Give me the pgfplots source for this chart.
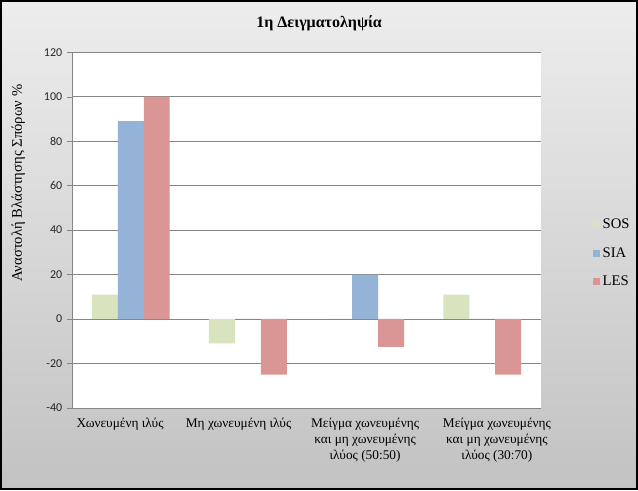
\documentclass[border=0pt]{standalone}
\usepackage{pgfplots}
\pgfplotsset{compat=1.18}
\usepackage{fontspec}
\setmainfont{Liberation Serif}
\newfontfamily\tickfont{Carlito}
\definecolor{sos}{HTML}{D7E4BD}
\definecolor{sia}{HTML}{95B3D7}
\definecolor{les}{HTML}{D99694}
\definecolor{gridc}{HTML}{868686}
\definecolor{bgtop}{HTML}{EDEDED}
\definecolor{bgbot}{HTML}{C2C2C2}
\begin{document}
\begin{tikzpicture}[x=0.75pt,y=0.75pt]
\shade[top color=bgtop, bottom color=bgbot] (0,0) rectangle (638,490);
\draw[black, line width=1.5pt] (0.75,0.75) rectangle (637.25,489.25);
\coordinate (orig) at (72,82);
\begin{axis}[
  at={(orig)}, anchor=south west,
  scale only axis,
  width=351.75pt, height=267pt,
  ybar=0pt, bar width=19.5pt,
  xmin=-0.5, xmax=3.5,
  ymin=-40, ymax=120,
  ytick={-40,-20,...,120},
  xtick={0,1,2,3},
  xticklabels={{\hspace*{-16pt}Χωνευμένη ιλύς},{\hspace*{-14pt}Μη χωνευμένη ιλύς},{Μείγμα χωνευμένης\\και μη χωνευμένης\\ιλύος (50:50)},{\hspace*{22pt}Μείγμα χωνευμένης\\\hspace*{22pt}και μη χωνευμένης\\\hspace*{22pt}ιλύος (30:70)}},
  xticklabel style={align=center, font=\rmfamily\fontsize{10}{12}\selectfont, text depth=0pt},
  yticklabel style={font=\tickfont\fontsize{9}{10}\selectfont, text=black!85},
  /pgf/number format/assume math mode=true,
  axis x line*=bottom, axis y line*=left,
  axis line style={gridc},
  x tick style={draw=none},
  y tick style={gridc},
  tick align=outside, major tick length=4pt,
  ymajorgrids, grid style={gridc, line width=0.6pt},
  axis background/.style={fill=white},
  every axis title shift=0pt,
  title={\bfseries 1η Δειγματοληψία},
  title style={at={(rel axis cs:0.527,1.08)}, anchor=center, font=\rmfamily\fontsize{12}{14}\selectfont},
  ylabel={Αναστολή Βλάστησης Σπόρων \%},
  ylabel style={at={(rel axis cs:-0.115,0.632)}, anchor=center, font=\rmfamily\fontsize{11}{13}\selectfont},
  legend style={at={(rel axis cs:1.11,0.435)}, anchor=west, draw=none, fill=none,
    font=\rmfamily\fontsize{11}{13}\selectfont, row sep=8.5pt, inner sep=0pt},
  legend cell align=left,
  legend image code/.code={\fill[#1] (0pt,-2.6pt) rectangle (5.5pt,2.6pt);},
]
\addplot[fill=sos, draw=none] coordinates {(0,11) (1,-11) (2,0) (3,11)};
\addplot[fill=sia, draw=none] coordinates {(0,89) (1,0) (2,20) (3,0)};
\addplot[fill=les, draw=none] coordinates {(0,100) (1,-25) (2,-12.5) (3,-25)};
\legend{SOS,SIA,LES}
\end{axis}
\end{tikzpicture}
\end{document}
